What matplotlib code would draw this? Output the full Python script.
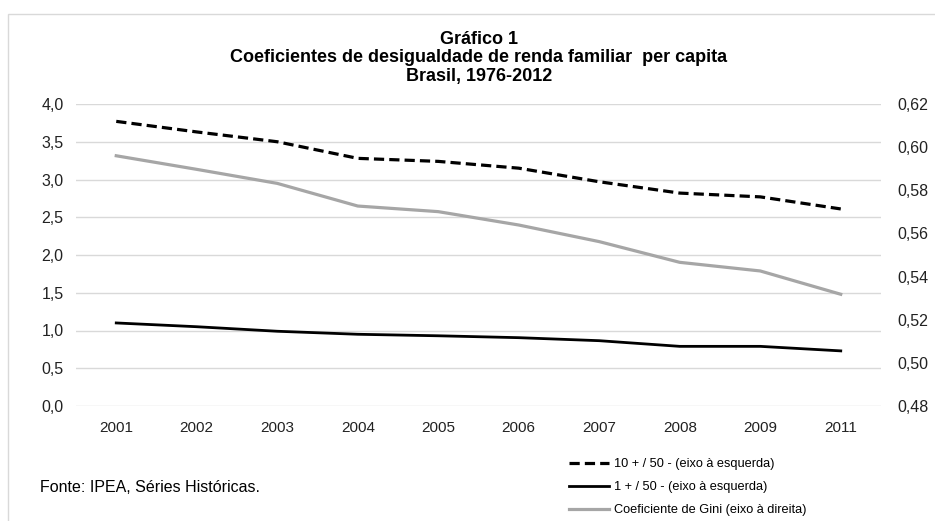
import matplotlib
matplotlib.use('Agg')
from matplotlib import pyplot as plt
from matplotlib.ticker import FuncFormatter
from matplotlib.patches import Rectangle
#
anos = ['2001', '2002', '2003', '2004', '2005', '2006', '2007', '2008', '2009', '2011']
razao_10_50 = [3.77, 3.63, 3.50, 3.28, 3.24, 3.15, 2.97, 2.82, 2.77, 2.61]
razao_1_50 = [1.10, 1.05, 0.99, 0.95, 0.93, 0.905, 0.865, 0.79, 0.79, 0.73]
gini = [0.596, 0.5897, 0.5832, 0.5727, 0.5701, 0.5639, 0.5562, 0.5466, 0.5426, 0.5318]
#
plt.rcParams['font.family'] = ['Liberation Sans', 'DejaVu Sans']
fig = plt.figure(figsize=(9.35, 5.21), dpi=100)
fig.patches.append(Rectangle((8/935, -0.05), 1.0, 1 - 14/521 + 0.05, transform=fig.transFigure,
                             fill=False, edgecolor='#d9d9d9', linewidth=1.0))
ax = fig.add_axes([76/935, 115/521, 805/935, 302/521])
ax2 = ax.twinx()
x = list(range(len(anos)))
#
l1, = ax.plot(x, razao_10_50, color='black', linewidth=2.3, dashes=(3.2, 1.6),
              solid_capstyle='butt', label='10 + / 50 - (eixo à esquerda)')
l2, = ax.plot(x, razao_1_50, color='black', linewidth=2.0, label='1 + / 50 - (eixo à esquerda)')
l3, = ax2.plot(x, gini, color='#a6a6a6', linewidth=2.3, label='Coeficiente de Gini (eixo à direita)')
#
ax.set_xlim(-0.5, len(anos) - 0.5)
ax.set_ylim(0, 4)
ax.set_yticks([0, 0.5, 1, 1.5, 2, 2.5, 3, 3.5, 4])
ax2.set_ylim(0.48, 0.62)
ax2.set_yticks([0.48, 0.50, 0.52, 0.54, 0.56, 0.58, 0.60, 0.62])
ax.yaxis.set_major_formatter(FuncFormatter(lambda v, p: ('%.1f' % v).replace('.', ',')))
ax2.yaxis.set_major_formatter(FuncFormatter(lambda v, p: ('%.2f' % v).replace('.', ',')))
ax.set_xticks(x)
ax.set_xticklabels(anos)
ax.grid(axis='y', color='#d9d9d9', linewidth=1.0)
ax.set_axisbelow(True)
for a in (ax, ax2):
  for s in a.spines.values():
    s.set_visible(False)
  a.tick_params(length=0, labelsize=11.5, colors='#222222')
ax.tick_params(axis='y', pad=9)
ax2.tick_params(axis='y', pad=12)
ax.tick_params(axis='x', pad=11, labelsize=11)
#
fig.text(0.512, 1 - 40/521, 'Gráfico 1', ha='center', va='center', fontsize=13, fontweight='bold')
fig.text(0.512, 1 - 58/521, 'Coeficientes de desigualdade de renda familiar  per capita', ha='center',
         va='center', fontsize=13, fontweight='bold')
fig.text(0.512, 1 - 76/521, 'Brasil, 1976-2012', ha='center', va='center', fontsize=13, fontweight='bold')
fig.text(40/935, 1 - 487/521, 'Fonte: IPEA, Séries Históricas.', ha='left', va='center', fontsize=11.5)
#
fig.legend(handles=[l1, l2, l3], loc='upper left', bbox_to_anchor=(557/935, 1 - 447/521),
           frameon=False, fontsize=9.2, handlelength=3.2, handletextpad=0.35, labelspacing=0.85)
plt.savefig('out.png', dpi=100)
